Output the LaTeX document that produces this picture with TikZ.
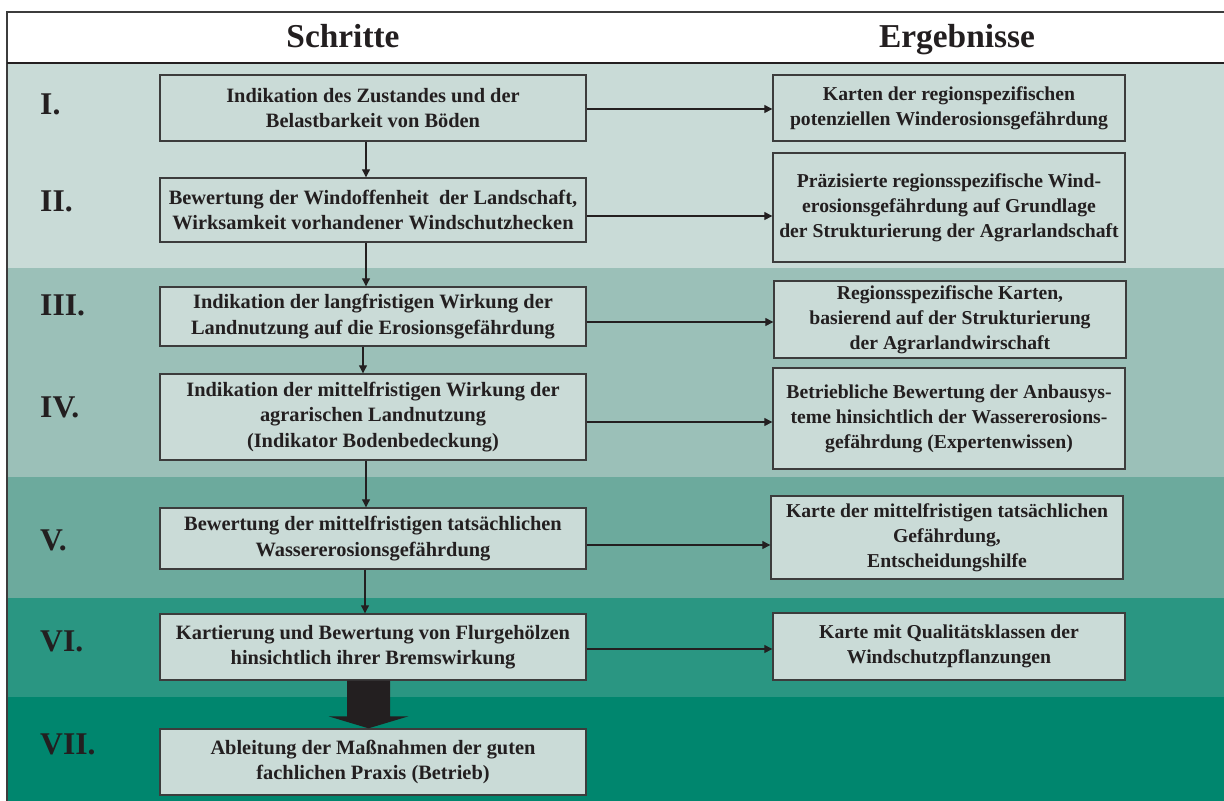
\documentclass[tikz,border=0pt]{standalone}
\usepackage{fontspec}
\setmainfont{Liberation Serif}
\usepackage{xcolor}
\usetikzlibrary{arrows.meta,calc}

\definecolor{bandA}{HTML}{C9DBD7}
\definecolor{bandB}{HTML}{9BC0B8}
\definecolor{bandC}{HTML}{6CAA9D}
\definecolor{bandD}{HTML}{2A9682}
\definecolor{bandE}{HTML}{00866E}
\definecolor{boxfill}{HTML}{CADBD7}
\definecolor{boxline}{HTML}{3C3C3C}
\definecolor{inkdark}{HTML}{231F20}

\begin{document}
\begin{tikzpicture}[x=0.02cm,y=-0.02cm,
  every node/.style={text=inkdark,font=\bfseries},
  lbox/.style={draw=boxline,line width=0.8pt,fill=boxfill,align=center,
    minimum width=8.52cm,inner sep=0pt,font=\bfseries\fontsize{11.6}{14.4}\selectfont},
  rbox/.style={lbox,minimum width=7.04cm,font=\bfseries\fontsize{11.2}{14.2}\selectfont},
  numlabel/.style={anchor=west,font=\bfseries\fontsize{18}{18}\selectfont},
  headlabel/.style={anchor=base,font=\bfseries\fontsize{19}{19}\selectfont},
  flow/.style={draw=inkdark,line width=0.6pt,-{Triangle[length=4.5pt,width=4.5pt]}}]
\useasboundingbox (0,0) rectangle (1224,801);

% bands
\fill[white] (0,0) rectangle (1224,801);
\fill[bandA] (7,63) rectangle (1224,268);
\fill[bandB] (7,268) rectangle (1224,477);
\fill[bandC] (7,477) rectangle (1224,598);
\fill[bandD] (7,598) rectangle (1224,697);
\fill[bandE] (7,697) rectangle (1224,801);
\draw[boxline,line width=0.7pt] (1224,12) -- (7,12) -- (7,801);
\draw[inkdark,line width=1.3pt] (7,63) -- (1224,63);

% headers
\node[headlabel] (hsteps) at (343,47) {Schritte};
\node[headlabel] (hresults) at (957,47) {Ergebnisse};

% numerals
\node[numlabel] (n1) at (34,104) {I.};
\node[numlabel] (n2) at (34,201) {II.};
\node[numlabel] (n3) at (34,305) {III.};
\node[numlabel] (n4) at (34,407) {IV.};
\node[numlabel] (n5) at (34,540) {V.};
\node[numlabel] (n6) at (34,641) {VI.};
\node[numlabel] (n7) at (34,744) {VII.};

% steps
\node[lbox,minimum height=1.32cm] (s1) at (373,108) {Indikation des Zustandes und der\\Belastbarkeit von Böden};
\node[lbox,minimum height=1.28cm] (s2) at (373,210) {Bewertung der Windoffenheit\ \ der Landschaft,\\Wirksamkeit vorhandener Windschutzhecken};
\node[lbox,minimum height=1.18cm] (s3) at (373,316.5) {Indikation der langfristigen Wirkung der\\Landnutzung auf die Erosionsgefährdung};
\node[lbox,minimum height=1.72cm] (s4) at (373,417) {Indikation der mittelfristigen Wirkung der\\agrarischen Landnutzung\\(Indikator Bodenbedeckung)};
\node[lbox,minimum height=1.22cm] (s5) at (373,538.5) {Bewertung der mittelfristigen tatsächlichen\\Wassererosionsgefährdung};
\node[lbox,minimum height=1.32cm] (s6) at (373,647) {Kartierung und Bewertung von Flurgehölzen\\hinsichtlich ihrer Bremswirkung};
\node[lbox,minimum height=1.32cm] (s7) at (373,762) {Ableitung der Maßnahmen der guten\\fachlichen Praxis (Betrieb)};

% results
\node[rbox,minimum height=1.32cm] (r1) at (949,108) {Karten der regionspezifischen\\potenziellen Winderosionsgefährdung};
\node[rbox,minimum height=2.18cm] (r2) at (949,207.5) {Präzisierte regionsspezifische Wind-\\erosionsgefährdung auf Grundlage\\der Strukturierung der Agrarlandschaft};
\node[rbox,minimum height=1.54cm] (r3) at (950,319.5) {Regionsspezifische Karten,\\basierend auf der Strukturierung\\der Agrarlandwirschaft};
\node[rbox,minimum height=2.02cm] (r4) at (949,418.5) {Betriebliche Bewertung der Anbausys-\\teme hinsichtlich der Wassererosions-\\gefährdung (Expertenwissen)};
\node[rbox,minimum height=1.66cm] (r5) at (947,537.5) {Karte der mittelfristigen tatsächlichen\\Gefährdung,\\Entscheidungshilfe};
\node[rbox,minimum height=1.34cm] (r6) at (949,646.5) {Karte mit Qualitätsklassen der\\Windschutzpflanzungen};

% step to result
\draw[flow] ([yshift=-0.02cm]s1.east) -- ([yshift=-0.02cm]s1.east -| r1.west);
\draw[flow] ([yshift=-0.12cm]s2.east) -- ([yshift=-0.12cm]s2.east -| r2.west);
\draw[flow] ([yshift=-0.11cm]s3.east) -- ([yshift=-0.11cm]s3.east -| r3.west);
\draw[flow] ([yshift=-0.10cm]s4.east) -- ([yshift=-0.10cm]s4.east -| r4.west);
\draw[flow] ([yshift=-0.13cm]s5.east) -- ([yshift=-0.13cm]s5.east -| r5.west);
\draw[flow] ([yshift=-0.04cm]s6.east) -- ([yshift=-0.04cm]s6.east -| r6.west);

% step to step
\draw[flow] ([xshift=-0.14cm]s1.south) -- ([xshift=-0.14cm]s2.north);
\draw[flow] ([xshift=-0.14cm]s2.south) -- ([xshift=-0.14cm]s3.north);
\draw[flow] ([xshift=-0.2cm]s3.south) -- ([xshift=-0.2cm]s4.north);
\draw[flow] ([xshift=-0.14cm]s4.south) -- ([xshift=-0.14cm]s5.north);
\draw[flow] ([xshift=-0.16cm]s5.south) -- ([xshift=-0.16cm]s6.north);

% big arrow
\coordinate (bigtop) at ([xshift=-0.09cm]s6.south);
\coordinate (bigtip) at ([xshift=-0.09cm]s7.north);
\fill[inkdark] ($(bigtop)+(-21.5,0)$) -- ($(bigtop)+(21.5,0)$) -- ($(bigtip)+(21.5,-12)$)
  -- ($(bigtip)+(40,-12)$) -- (bigtip) -- ($(bigtip)+(-40,-12)$) -- ($(bigtip)+(-21.5,-12)$) -- cycle;
\end{tikzpicture}
\end{document}
